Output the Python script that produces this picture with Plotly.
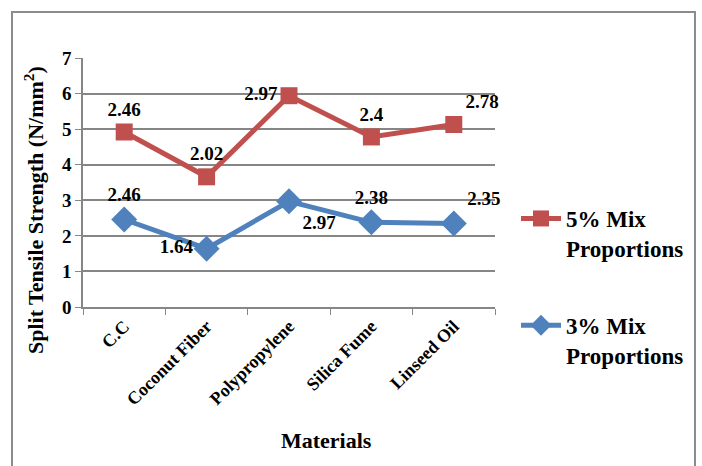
import plotly.graph_objects as go

# Split tensile strength (N/mm^2) per admixture material
materials = ["C.C", "Coconut Fiber", "Polypropylene", "Silica Fume", "Linseed Oil"]
mix_3pct = [2.46, 1.64, 2.97, 2.38, 2.35]
mix_5pct = [2.46, 2.02, 2.97, 2.40, 2.78]

FONT = "Liberation Serif, Times New Roman, serif"
RED = "#C0504D"
BLUE = "#4F81BD"


def bold(s):
    return "<br>".join(f"<b>{part}</b>" for part in s.split("<br>"))


fig = go.Figure()

# Stacked line series: the 5% series sits on top of the 3% series
fig.add_trace(go.Scatter(
    x=materials, y=mix_3pct, name=bold("3% Mix<br>Proportions"),
    legendgroup="p3", legendrank=2,
    stackgroup="mix", fill="none", mode="lines+markers+text",
    line=dict(color=BLUE, width=5),
    marker=dict(symbol="diamond", size=20, color=BLUE),
    text=[f"{v:g}" for v in mix_3pct], texttemplate="<b>%{text}</b>",
    textposition=["top center", "middle left", "bottom right", "top center", "top right"],
    textfont=dict(family=FONT, size=19, color="black"),
    cliponaxis=False,
))
fig.add_trace(go.Scatter(
    x=materials, y=mix_5pct, name=bold("5% Mix<br>Proportions"),
    legendgroup="p5", legendrank=1,
    stackgroup="mix", fill="none", mode="lines+markers+text",
    line=dict(color=RED, width=5),
    marker=dict(symbol="square", size=17, color=RED),
    text=[f"{v:g}" for v in mix_5pct], texttemplate="<b>%{text}</b>",
    textposition=["top center", "top center", "middle left", "top center", "top right"],
    textfont=dict(family=FONT, size=19, color="black"),
    cliponaxis=False,
))

# Plot area geometry in pixels (used for the outer frame and annotations)
L, R, T, B = 83, 207, 58, 159
W, H = 702, 466
pw, ph = W - L - R, H - T - B

fig.update_layout(
    width=W, height=H,
    margin=dict(l=L, r=R, t=T, b=B),
    paper_bgcolor="white", plot_bgcolor="white",
    font=dict(family=FONT, size=18, color="black"),
    showlegend=True,
    legend=dict(
        x=(516 - L) / pw, y=(307 - 197) / ph, xanchor="left", yanchor="top",
        traceorder="grouped", tracegroupgap=44, valign="top",
        font=dict(family=FONT, size=23, color="black"),
        itemwidth=40, bgcolor="rgba(0,0,0,0)",
    ),
    xaxis=dict(
        type="category", range=[-0.5, 4.5],
        tickvals=materials, ticktext=[f"<b>{m}</b>" for m in materials],
        showline=True, linecolor="#868686", linewidth=1.5,
        ticks="outside", tickson="boundaries", ticklen=6, tickcolor="#868686",
        tickangle=-45, tickfont=dict(family=FONT, size=18, color="black"),
        showgrid=False,
    ),
    yaxis=dict(
        range=[0, 7],
        tickvals=list(range(8)), ticktext=[f"<b>{i}</b>" for i in range(8)],
        showline=True, linecolor="#868686", linewidth=1.5,
        ticks="outside", ticklen=6, tickcolor="#868686",
        tickfont=dict(family=FONT, size=19, color="black"),
        showgrid=True, gridcolor="#868686", gridwidth=1.5,
        zeroline=False,
    ),
    annotations=[
        dict(text="<b>Split Tensile Strength (N/mm<sup>2</sup>)</b>",
             xref="paper", yref="paper",
             x=(34 - L) / pw, y=(307 - 210) / ph,
             xanchor="center", yanchor="middle", textangle=-90,
             showarrow=False, font=dict(family=FONT, size=22, color="black")),
        dict(text="<b>Materials</b>", xref="paper", yref="paper",
             x=(326 - L) / pw, y=(307 - 440) / ph,
             xanchor="center", yanchor="middle",
             showarrow=False, font=dict(family=FONT, size=22, color="black")),
    ],
    shapes=[
        dict(type="rect", xref="paper", yref="paper",
             x0=(12 - L) / pw, x1=(695 - L) / pw,
             y0=(307 - 480) / ph, y1=(307 - 12) / ph,
             line=dict(color="#8C8C8C", width=2), fillcolor="rgba(0,0,0,0)",
             layer="below"),
    ],
)

fig.write_html("out.html")
